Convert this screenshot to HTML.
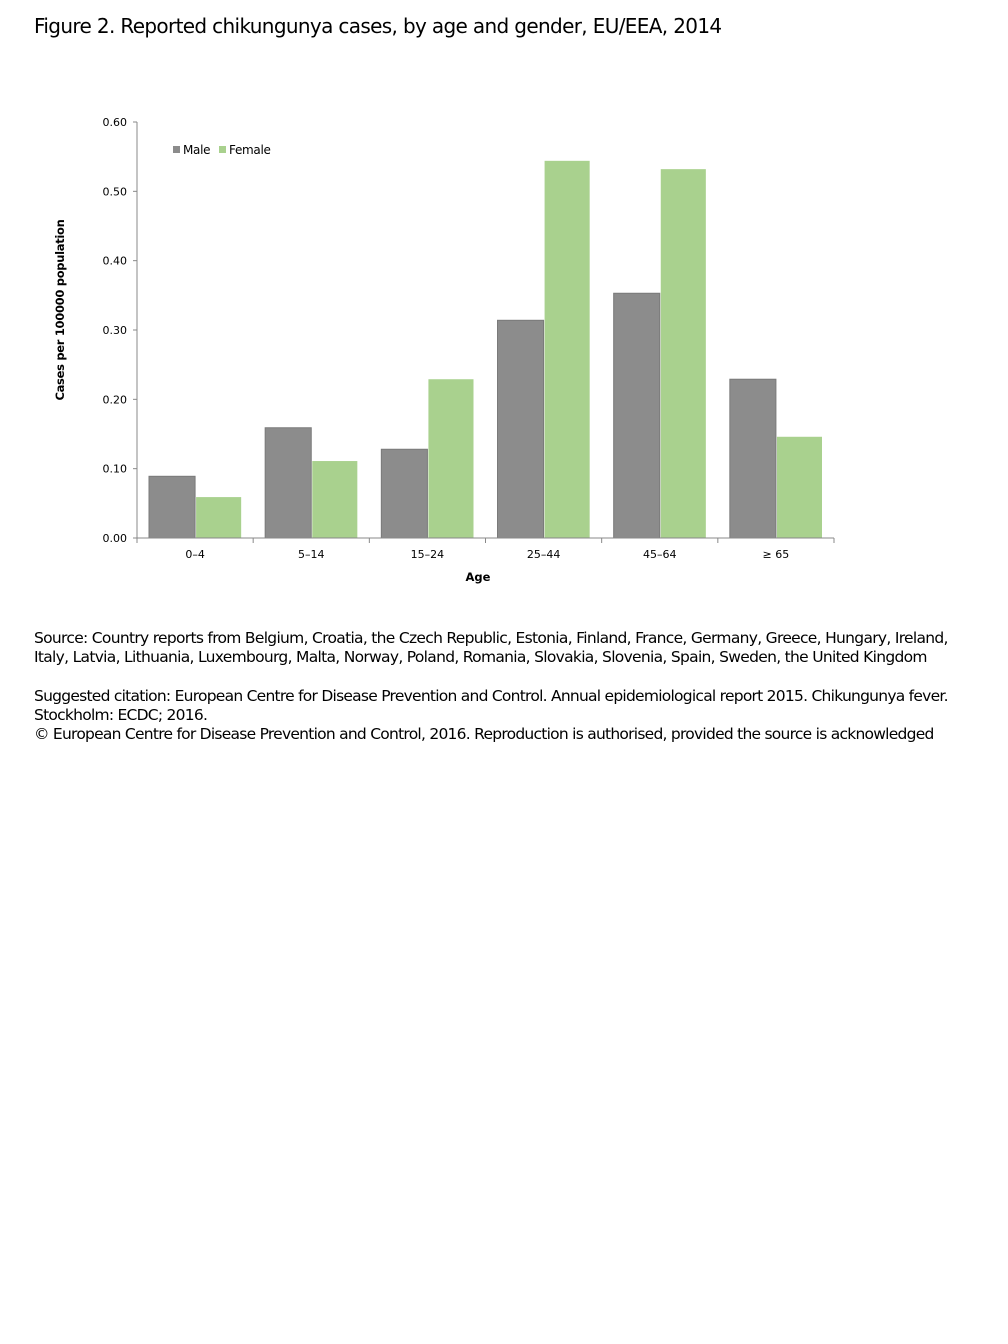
<!DOCTYPE html>
<html><head><meta charset="utf-8">
<style>
body{margin:0;background:#fff;width:1008px;height:1344px;overflow:hidden;font-family:"DejaVu Sans","Liberation Sans",sans-serif;}
.t{position:absolute;left:34px;color:#000;white-space:nowrap;}
</style></head><body>
<div class="t" style="top:14px;font-size:20px;letter-spacing:-0.65px">Figure 2. Reported chikungunya cases, by age and gender, EU/EEA, 2014</div>
<svg id="chart" width="1008" height="620" style="position:absolute;left:0;top:0" font-family="DejaVu Sans, Liberation Sans, sans-serif"></svg>
<div class="t" style="top:629px;font-size:15.5px;line-height:19px;letter-spacing:-0.7px">Source: Country reports from Belgium, Croatia, the Czech Republic, Estonia, Finland, France, Germany, Greece, Hungary, Ireland,<br>Italy, Latvia, Lithuania, Luxembourg, Malta, Norway, Poland, Romania, Slovakia, Slovenia, Spain, Sweden, the United Kingdom</div>
<div class="t" style="top:687px;font-size:15.5px;line-height:19px;letter-spacing:-0.75px">Suggested citation: European Centre for Disease Prevention and Control. Annual epidemiological report 2015. Chikungunya fever.<br>Stockholm: ECDC; 2016.<br>© European Centre for Disease Prevention and Control, 2016. Reproduction is authorised, provided the source is acknowledged</div>
<script>
const categories=["0\u20134","5\u201314","15\u201324","25\u201344","45\u201364","\u2265 65"];
const male=[0.089,0.159,0.128,0.314,0.353,0.229];
const female=[0.059,0.111,0.229,0.544,0.532,0.146];
const yTicks=[0,0.1,0.2,0.3,0.4,0.5,0.6];
const yTickLabels=["0.00","0.10","0.20","0.30","0.40","0.50","0.60"];
const NS="http://www.w3.org/2000/svg";
const svg=document.getElementById('chart');
const x0=137,x1=834,yb=538,yt=122,ymax=0.6;
const y=v=>yb-(v/ymax)*(yb-yt);
const bw=(x1-x0)/categories.length;
const xc=i=>x0+bw*i;
function mk(t,a,p){const e=document.createElementNS(NS,t);for(const k in a)e.setAttribute(k,a[k]);(p||svg).appendChild(e);return e;}
let ya=mk('line',{x1:x0,y1:yt,x2:x0,y2:yb,stroke:'#888','stroke-width':1});


yTicks.forEach((v,i)=>{
 let l=mk('line',{x1:x0-4,y1:y(v),x2:x0,y2:y(v),stroke:'#888'});
 
 
 let t=mk('text',{x:x0-10,y:y(v)+4,'font-size':11,'text-anchor':'end',fill:'#000'});
 t.textContent=yTickLabels[i];
 
 
});
const gap=12,bwid=(bw-2*gap)/2;
categories.forEach((c,i)=>{
 let m=mk('rect',{x:xc(i)+gap,y:y(male[i]),width:bwid,height:yb-y(male[i]),fill:'#8c8c8c',stroke:'#7a7a7a','stroke-width':1});
 
 
 let f=mk('rect',{x:xc(i)+gap+bwid+1,y:y(female[i]),width:bwid-1,height:yb-y(female[i]),fill:'#a9d18e'});
 
 
 let t=mk('text',{x:xc(i)+bw/2,y:yb+20,'font-size':11,'text-anchor':'middle',fill:'#000'});
 t.textContent=c;
 
 
});
let xa=mk('line',{x1:x0,y1:yb,x2:x1,y2:yb,stroke:'#888'});


for(let i=0;i<=categories.length;i++){
 let l=mk('line',{x1:xc(i),y1:yb,x2:xc(i),y2:yb+5,stroke:'#888'});
 
 
}
let xt=mk('text',{x:478,y:581,'font-size':11.5,'font-weight':'bold','text-anchor':'middle'});
xt.textContent='Age';


let yt2=mk('text',{x:64,y:310,'font-size':11.5,'font-weight':'bold','text-anchor':'middle',transform:'rotate(-90 64 310)','letter-spacing':'-0.3'});
yt2.textContent='Cases per 100000 population';


const lg=[["Male","#8c8c8c",173],["Female","#a9d18e",219]];
lg.forEach(d=>{
 let r=mk('rect',{x:d[2],y:146,width:7,height:7,fill:d[1]});
 
 
 let t=mk('text',{x:d[2]+10,y:154,'font-size':12,'letter-spacing':'-0.3'});
 t.textContent=d[0];
 
 
});
</script>
</body></html>
